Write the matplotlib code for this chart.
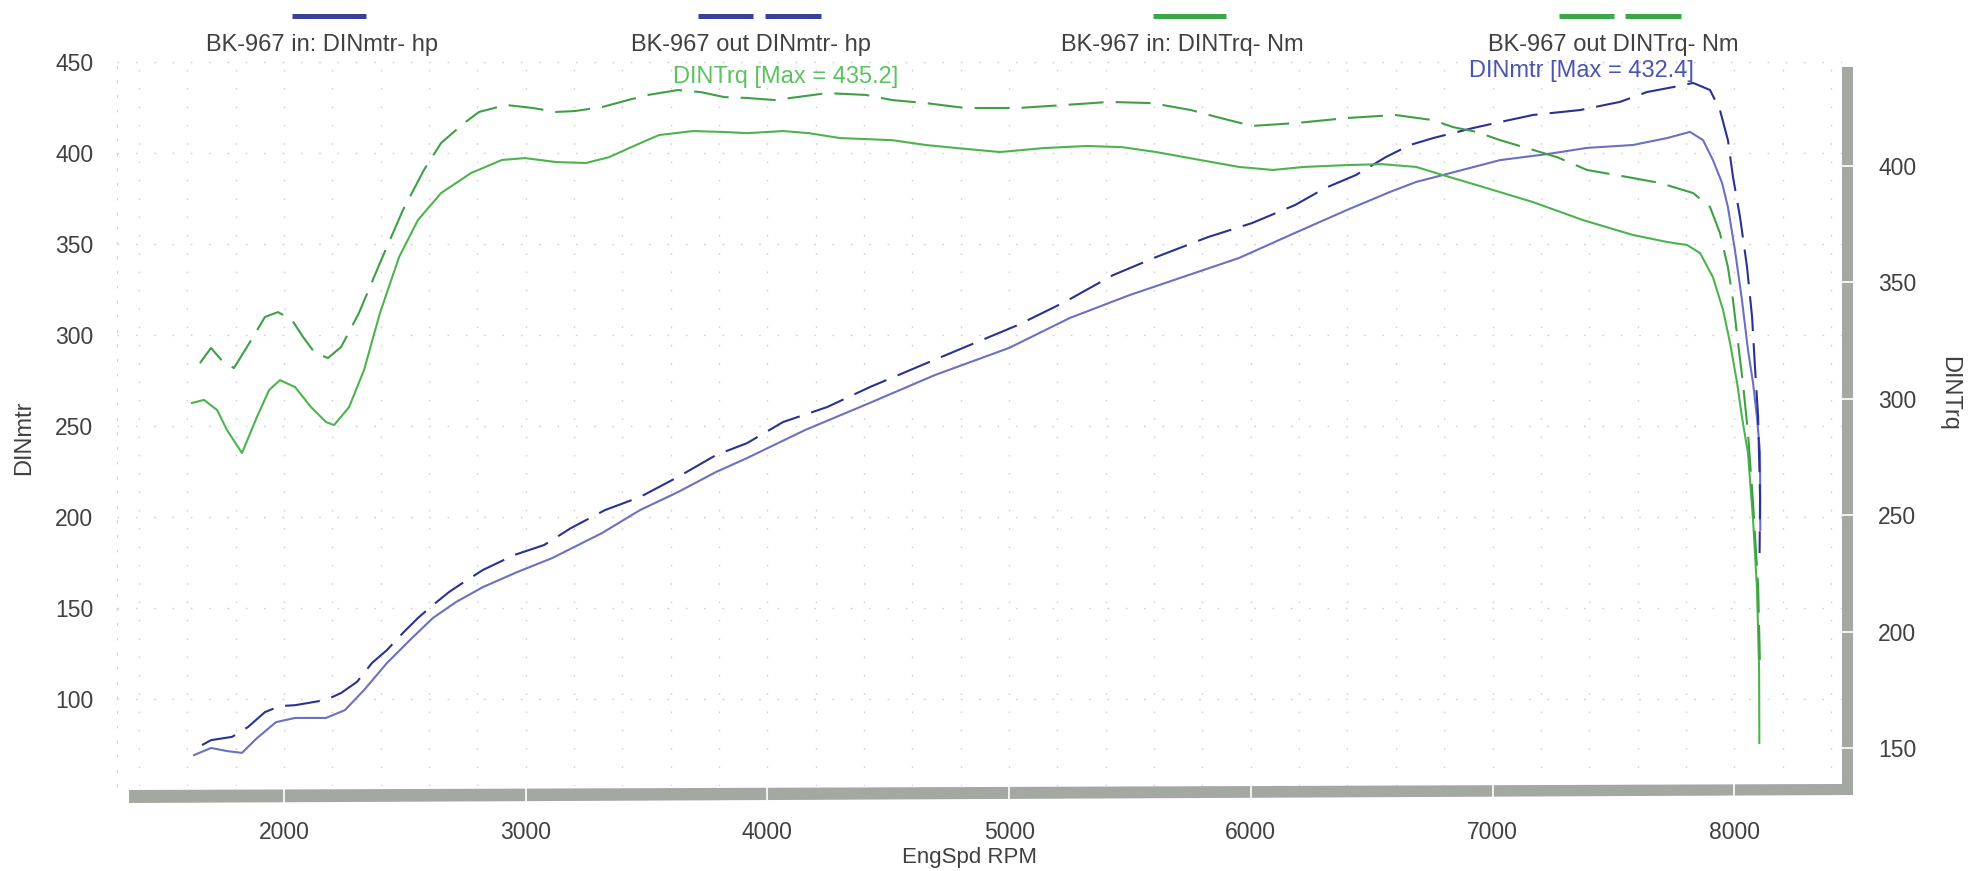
import matplotlib
matplotlib.use('Agg')
import matplotlib.pyplot as plt
import matplotlib.transforms as mtransforms
from matplotlib.lines import Line2D
from matplotlib.patches import Polygon
from matplotlib.ticker import MultipleLocator

plt.rcParams['font.family'] = ['Liberation Sans', 'DejaVu Sans']

# --- data ---
# BK-967 out, DINTrq (Nm, right axis, dashed green)
trq_out_rpm = [1652, 1698, 1748, 1793, 1872, 1921, 1975, 2033, 2079, 2128, 2182, 2236,
               2310, 2397, 2492, 2579, 2650, 2745, 2807, 2918, 3030, 3125, 3204, 3316,
               3423, 3506, 3630, 3725, 3820, 3916, 4031, 4247, 4408, 4516, 4656, 4818,
               5037, 5231, 5413, 5591, 5753, 5860, 6005, 6183, 6398, 6597, 6754, 6837,
               6936, 7031, 7168, 7267, 7391, 7557, 7693, 7830, 7900, 7941, 7974, 7995,
               8016, 8036, 8057, 8078, 8099, 8107]
trq_out = [315.2, 321.7, 315.7, 313.1, 326.4, 335.0, 337.1, 333.7, 326.4, 319.5, 317.4, 322.1,
           336.7, 358.2, 380.9, 398.1, 409.7, 418.2, 423.0, 426.0, 424.7, 423.0, 423.4, 425.1,
           428.1, 430.3, 432.4, 431.5, 429.4, 429.0, 428.1, 431.1, 430.3, 428.1, 426.8, 424.7,
           424.7, 426.0, 427.3, 426.8, 423.8, 420.8, 417.0, 418.2, 420.4, 421.7, 419.5, 416.5,
           414.4, 410.9, 406.7, 403.6, 398.1, 395.1, 392.5, 388.2, 382.2, 371.0, 356.4, 342.3,
           323.8, 306.7, 285.2, 255.1, 219.1, 184.3]

# BK-967 in, DINTrq (Nm, right axis, solid green)
trq_in_rpm = [1619, 1669, 1723, 1764, 1826, 1888, 1938, 1983, 2046, 2112, 2174, 2207,
              2269, 2331, 2397, 2476, 2554, 2650, 2774, 2902, 2997, 3125, 3249, 3345,
              3456, 3552, 3692, 3820, 3916, 4065, 4172, 4300, 4516, 4656, 4784, 4962,
              5144, 5322, 5467, 5608, 5790, 5951, 6092, 6220, 6398, 6543, 6684, 6795,
              6961, 7168, 7374, 7581, 7722, 7805, 7859, 7912, 7954, 7983, 8012, 8032,
              8057, 8078, 8094, 8103, 8104]
trq_in = [298.1, 299.4, 295.1, 286.5, 276.6, 292.1, 303.6, 307.9, 304.9, 296.3, 289.9, 288.6,
          296.3, 312.2, 336.7, 360.7, 376.6, 388.2, 396.8, 402.4, 403.2, 401.5, 401.1, 403.6,
          408.8, 413.1, 414.8, 414.4, 413.9, 414.8, 413.9, 411.8, 410.9, 408.8, 407.5, 405.8,
          407.5, 408.4, 407.9, 405.8, 402.4, 399.4, 398.1, 399.4, 400.2, 400.6, 399.4, 395.9,
          390.8, 384.3, 376.6, 370.2, 367.2, 365.9, 362.4, 352.1, 338.0, 323.8, 306.7, 292.1,
          276.6, 247.9, 219.1, 183.5, 152.2]

# BK-967 out, DINmtr (hp, left axis, dashed blue)
pwr_out_rpm = [1661, 1698, 1785, 1851, 1921, 1983, 2046, 2174, 2236, 2302, 2364, 2426,
               2492, 2554, 2616, 2683, 2745, 2823, 2952, 3076, 3187, 3328, 3473, 3630,
               3787, 3916, 4065, 4247, 4424, 4640, 4838, 5037, 5231, 5430, 5608, 5823,
               6005, 6183, 6307, 6435, 6559, 6659, 6754, 6919, 7031, 7168, 7362, 7528,
               7639, 7747, 7830, 7900, 7941, 7974, 7995, 8024, 8053, 8074, 8086, 8099,
               8107, 8105]
pwr_out = [74.7, 77.4, 79.2, 84.6, 92.8, 96.1, 96.6, 99.5, 103.3, 109.4, 119.8, 126.9,
           136.3, 144.5, 151.6, 158.8, 164.3, 170.9, 179.1, 184.6, 193.9, 203.8, 211.0, 222.0,
           234.0, 240.6, 252.2, 260.4, 271.4, 283.5, 294.5, 305.5, 318.2, 332.9, 342.8, 353.8,
           361.5, 371.4, 380.7, 387.9, 397.8, 404.4, 408.2, 413.7, 417.0, 420.9, 423.6, 428.1,
           433.5, 436.2, 438.5, 434.6, 423.6, 407.1, 386.8, 364.9, 337.4, 309.9, 282.4, 255.0,
           211.0, 180.2]

# BK-967 in, DINmtr (hp, left axis, solid blue)
pwr_in_rpm = [1628, 1698, 1764, 1826, 1888, 1967, 2046, 2174, 2252, 2331, 2426, 2521,
              2616, 2712, 2823, 2964, 3109, 3316, 3473, 3630, 3787, 3916, 4156, 4424,
              4693, 5000, 5252, 5500, 5682, 5951, 6183, 6398, 6576, 6684, 6795, 7031,
              7226, 7391, 7581, 7722, 7817, 7871, 7912, 7950, 7974, 8003, 8032, 8057,
              8078, 8094, 8107, 8108]
pwr_in = [69.2, 73.1, 71.4, 70.4, 78.5, 87.3, 89.6, 89.6, 93.9, 104.9, 119.8, 132.4,
          144.5, 153.3, 161.5, 169.7, 177.4, 191.2, 203.8, 213.7, 224.7, 232.4, 247.8, 262.7,
          278.0, 292.9, 309.4, 322.0, 330.2, 342.3, 356.1, 368.7, 378.6, 384.1, 387.9, 396.1,
          399.4, 402.8, 404.4, 408.2, 411.6, 407.1, 396.1, 383.5, 370.3, 346.7, 319.3, 291.8,
          273.6, 255.0, 235.2, 192.9]

x_ticks = [2000, 3000, 4000, 5000, 6000, 7000, 8000]
left_ticks = [100, 150, 200, 250, 300, 350, 400, 450]
right_ticks = [150, 200, 250, 300, 350, 400]

legend_labels = ['BK-967 in: DINmtr- hp', 'BK-967 out DINmtr- hp',
                 'BK-967 in: DINTrq- Nm', 'BK-967 out DINTrq- Nm']

# colours
BLUE_IN = '#6b70c0'
BLUE_OUT = '#2b3190'
GREEN_IN = '#4db34f'
GREEN_OUT = '#3f9f47'
BLUE_LEG = '#3a4199'
GREEN_LEG = '#3ea64b'
TXT = '#404040'
BAR = '#a3a8a0'
GRID = '#cfcfcf'

W, H = 1978, 871
fig = plt.figure(figsize=(W / 100, H / 100), dpi=100)
fig.patch.set_facecolor('white')

ax = fig.add_axes([117 / W, 1 - 786 / H, 1725 / W, 726 / H])
ax2 = ax.twinx()

ax.set_xlim(1309, 8446)
ax.set_ylim(52.2, 451.1)
ax2.set_ylim(133.7, 445.3)

# faint dotted grid
ax.set_xticks(x_ticks)
ax.xaxis.set_minor_locator(MultipleLocator(200))
ax.set_yticks(left_ticks)
ax2.set_yticks(right_ticks)
dots = (0, (1.2, 12))
ax.grid(which='both', axis='x', color=GRID, linestyle=dots, linewidth=1.0)
ax.grid(which='major', axis='y', color=GRID, linestyle=dots, linewidth=1.0)

for a in (ax, ax2):
    for s in a.spines.values():
        s.set_visible(False)
ax.spines['left'].set_visible(True)
ax.spines['left'].set_color(GRID)
ax.spines['left'].set_linestyle(dots)

ax.tick_params(axis='both', which='both', length=0, labelsize=16.5, labelcolor=TXT)
ax.tick_params(axis='y', pad=17)
ax.tick_params(axis='x', pad=25)
ax2.tick_params(axis='y', length=0, pad=26, labelsize=16.5, labelcolor=TXT)

# curves
lw = 1.5
dash = (16.8, 5.8)
ax.plot(pwr_in_rpm, pwr_in, color=BLUE_IN, lw=lw)
ax.plot(pwr_out_rpm, pwr_out, color=BLUE_OUT, lw=lw, dashes=dash)
ax2.plot(trq_in_rpm, trq_in, color=GREEN_IN, lw=lw)
ax2.plot(trq_out_rpm, trq_out, color=GREEN_OUT, lw=lw, dashes=dash)

# grey "3D" frame along bottom and right
frame = Polygon([(0.00696, -0.00551), (1.0, 0.0028), (1.0, 0.99036), (1.00638, 0.99036),
                 (1.00638, -0.0124), (0.00696, -0.02342)],
                closed=True, transform=ax.transAxes, facecolor=BAR, edgecolor='none',
                clip_on=False, zorder=5)
ax.add_patch(frame)
tb = mtransforms.blended_transform_factory(ax.transData, ax.transAxes)
for t in x_ticks:
    ax.add_line(Line2D([t, t], [-0.03, 0.008], transform=tb, color='white', lw=1.2,
                       clip_on=False, zorder=6))
tr = mtransforms.blended_transform_factory(ax2.transAxes, ax2.transData)
for t in right_ticks:
    ax2.add_line(Line2D([0.998, 1.009], [t, t], transform=tr, color='white', lw=1.2,
                        clip_on=False, zorder=6))

# legend along the top
fs = 17
leg_cx = [322, 751, 1182, 1613]
leg_col = [BLUE_LEG, BLUE_LEG, GREEN_LEG, GREEN_LEG]
leg_segs = [[(292, 366)], [(698, 753), (765, 821)],
            [(1153, 1226)], [(1559, 1614), (1625, 1681)]]
for cx, col, segs, lab in zip(leg_cx, leg_col, leg_segs, legend_labels):
    for x0, x1 in segs:
        fig.add_artist(Line2D([x0 / W, x1 / W], [1 - 16 / H, 1 - 16 / H],
                              transform=fig.transFigure, color=col, lw=3.6,
                              solid_capstyle='butt'))
    fig.text(cx / W, 1 - 45 / H, lab, ha='center', va='center', fontsize=fs, color=TXT)

fig.text(786 / W, 1 - 77 / H, 'DINTrq [Max = 435.2]', ha='center', va='center',
         fontsize=fs, color='#5cc25e')
fig.text(1581 / W, 1 - 71 / H, 'DINmtr [Max = 432.4]', ha='center', va='center',
         fontsize=fs, color='#4a55ad')

# axis titles
fig.text(24 / W, 1 - 438 / H, 'DINmtr', rotation=90, ha='center', va='center',
         fontsize=fs, color=TXT)
fig.text(1949 / W, 1 - 393 / H, 'DINTrq', rotation=270, ha='center', va='center',
         fontsize=fs, color=TXT)
fig.text(969 / W, 1 - 857 / H, 'EngSpd RPM', ha='center', va='center',
         fontsize=16, color=TXT)

fig.savefig('out.png', dpi=100, facecolor='white')
